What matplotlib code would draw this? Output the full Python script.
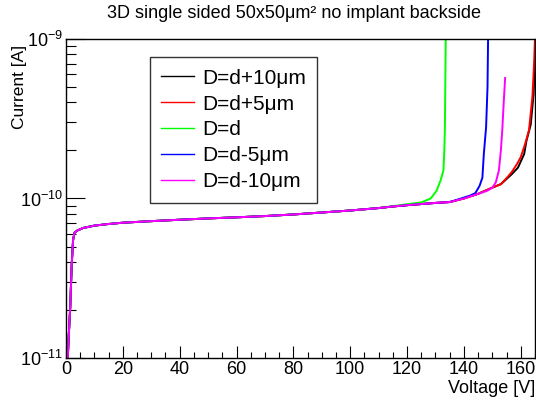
import matplotlib
matplotlib.use("Agg")
import matplotlib.pyplot as plt
from matplotlib.ticker import LogLocator, MultipleLocator, NullFormatter

plt.rcParams["font.family"] = ["Liberation Sans", "DejaVu Sans"]
plt.rcParams["mathtext.fontset"] = "custom"
plt.rcParams["mathtext.rm"] = "Liberation Sans"

# shared part of the I-V curves (voltage in V, current in A)
base_v = [0.5, 1, 1.5, 2, 2.5, 3, 4, 6, 10, 15, 20, 30, 40, 50, 60, 70,
          80, 90, 100, 110, 115, 120, 125, 130, 135, 140, 145, 150]
base_i = [8.9e-12, 1.41e-11, 2.09e-11, 3.8e-11, 5.5e-11, 6.1e-11, 6.3e-11,
          6.53e-11, 6.76e-11, 6.92e-11, 7.05e-11, 7.21e-11, 7.36e-11, 7.5e-11,
          7.62e-11, 7.76e-11, 7.94e-11, 8.17e-11, 8.41e-11, 8.71e-11, 8.91e-11,
          9.08e-11, 9.23e-11, 9.38e-11, 9.5e-11, 1.0e-10, 1.07e-10, 1.17e-10]

# breakdown tails, each starting after its own cut voltage
p10_cut = 150
p10_v = [153, 155.3, 157, 159, 161.2, 162, 163.5, 164.5, 165, 165.5]
p10_i = [1.23e-10, 1.34e-10, 1.43e-10, 1.56e-10, 1.9e-10, 2.3e-10, 2.9e-10,
         4.5e-10, 7.7e-10, 1.5e-9]

p5_cut = 150
p5_v = [153, 155.3, 157, 158.8, 160, 161.5, 162.9, 164.1, 164.7, 165.2]
p5_i = [1.23e-10, 1.36e-10, 1.48e-10, 1.66e-10, 1.82e-10, 2.19e-10, 2.69e-10,
        4.37e-10, 7.1e-10, 1.3e-9]

d_cut = 110
d_v = [115, 120, 125, 128.3, 130.4, 131.8, 132.8, 133.1, 133.3, 133.6, 133.7]
d_i = [8.95e-11, 9.2e-11, 9.45e-11, 1.0e-10, 1.12e-10, 1.3e-10, 1.5e-10,
       2.0e-10, 2.7e-10, 1.0e-9, 1.3e-9]

m5_cut = 135
m5_v = [139, 142, 144, 145.5, 146.5, 147, 147.8, 148.3, 148.5, 148.6]
m5_i = [1.0e-10, 1.04e-10, 1.08e-10, 1.2e-10, 1.35e-10, 1.9e-10, 2.8e-10,
        5.0e-10, 1.0e-9, 1.3e-9]

m10_cut = 145
m10_v = [148.3, 150, 151.2, 152.3, 153, 153.5, 154, 154.5]
m10_i = [1.12e-10, 1.17e-10, 1.26e-10, 1.5e-10, 2.0e-10, 2.7e-10, 4.0e-10,
         5.7e-10]

series = [
    ("D=d+10μm", "#000000", p10_cut, p10_v, p10_i),
    ("D=d+5μm", "#ff0000", p5_cut, p5_v, p5_i),
    ("D=d", "#00ff00", d_cut, d_v, d_i),
    ("D=d-5μm", "#0000ff", m5_cut, m5_v, m5_i),
    ("D=d-10μm", "#ff00ff", m10_cut, m10_v, m10_i),
]

fig = plt.figure(figsize=(5.36, 4.03), dpi=100)
ax = fig.add_axes([0.1231, 0.1117, 0.875, 0.7915])

for label, color, cut, tv, ti in series:
    v = [x for x in base_v if x <= cut] + tv
    i = [y for x, y in zip(base_v, base_i) if x <= cut] + ti
    ax.plot(v, i, color=color, lw=1.4, label=label)

ax.set_yscale("log")
ax.set_xlim(0, 165)
ax.set_ylim(1e-11, 1e-9)

ax.xaxis.set_major_locator(MultipleLocator(20))
ax.xaxis.set_minor_locator(MultipleLocator(5))
ax.yaxis.set_major_locator(LogLocator(base=10))
ax.yaxis.set_minor_locator(LogLocator(base=10, subs=range(2, 10)))
ax.yaxis.set_minor_formatter(NullFormatter())

ax.tick_params(which="both", direction="in", top=False, right=False,
               labelsize=13, width=0.8, pad=2)
ax.tick_params(axis="x", which="major", length=9)
ax.tick_params(axis="x", which="minor", length=4.5)
ax.tick_params(axis="y", which="major", length=14)
ax.tick_params(axis="y", which="minor", length=7)
for s in ax.spines.values():
    s.set_linewidth(1.0)

fig.text(0.5476, 0.967, "3D single sided 50x50μm² no implant backside",
         ha="center", va="center", fontsize=13)
fig.text(0.998, 0.037, "Voltage [V]", ha="right", va="center", fontsize=13)
fig.text(0.036, 0.888, "Current [A]", ha="center", va="top", rotation=90,
         fontsize=12.5)

leg = ax.legend(loc="upper left", bbox_to_anchor=(0.179, 0.943), fontsize=15,
                frameon=True, fancybox=False, edgecolor="black",
                handlelength=1.55, handletextpad=0.4, labelspacing=0.33,
                borderpad=0.55, borderaxespad=0)
leg.get_frame().set_linewidth(1.0)
for h in leg.get_lines():
    h.set_linewidth(1.0)

fig.savefig("out.png", dpi=100)
